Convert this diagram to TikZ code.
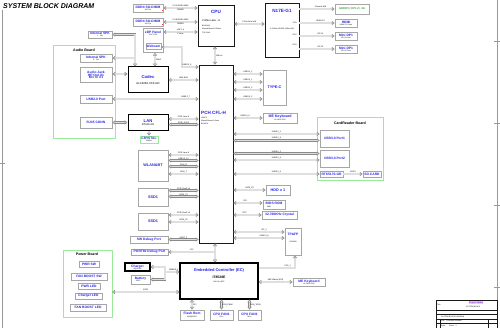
\documentclass[tikz,border=0pt]{standalone}
\usepackage{fontspec}
\setmainfont{Liberation Sans}
\usetikzlibrary{positioning,arrows.meta,calc}
\definecolor{sbBlue}{HTML}{2424E6}
\definecolor{sbGreen}{HTML}{9BEA9B}
\definecolor{sbBus}{HTML}{8A8A8A}
\definecolor{sbVram}{HTML}{3DAA3D}
\definecolor{sbPurple}{HTML}{9B30E0}

\newcommand\bname{\fontsize{3.3}{3.9}\selectfont\bfseries\color{sbBlue}}
\newcommand\bbig{\fontsize{4.6}{5.2}\selectfont\bfseries\color{sbBlue}}
\newcommand\bsmall{\fontsize{1.8}{2.2}\selectfont\mdseries\color{black}}

\tikzset{
  box/.style={draw=gray!70, line width=0.8pt, fill=white, inner sep=0pt, align=center, font=\fontsize{2}{2.6}\selectfont},
  chip/.style={draw=black, line width=1pt, fill=white, inner sep=0pt, align=center, font=\fontsize{2}{2.6}\selectfont},
  board/.style={draw=sbGreen, line width=0.9pt},
  tipo/.tip={Triangle[open, length=2.8pt, width=4.2pt, line width=0.55pt, fill=white]},
  bus/.style={draw=sbBus, double=gray!25, double distance=1.2pt, line width=0.6pt, tipo-tipo},
  busr/.style={draw=sbBus, double=gray!25, double distance=1.2pt, line width=0.6pt, -tipo},
  busl/.style={draw=sbBus, double=gray!25, double distance=1.2pt, line width=0.6pt, tipo-},
  sig/.style={font=\fontsize{2}{2.3}\selectfont, inner sep=0.8pt},
  note/.style={font=\fontsize{1.8}{2.2}\selectfont, inner sep=0pt, anchor=west},
}

\begin{document}
\begin{tikzpicture}[x=1pt, y=-1pt]
  \useasboundingbox (0,0) rectangle (500,328);
  % sheet frame
  \draw[gray!80, line width=0.8pt] (2,10) -- (2,328);
  \draw[gray!80, line width=0.8pt] (497,0) -- (497,328);
  \foreach \ty in {41,123,205,287} {
    \draw[gray!80, line width=0.6pt] (494,\ty) -- (500,\ty);
  }
  \draw[gray!80, line width=0.6pt] (0,163) -- (5,163);
  \node[anchor=west, inner sep=0pt, font=\fontsize{7}{8}\selectfont\bfseries\itshape] (title) at (3,6) {SYSTEM BLOCK DIAGRAM};

  % boards
  \draw[board] (53,45) rectangle (115,138);
  \node[font=\fontsize{3.6}{4}\selectfont\bfseries, inner sep=0pt] (audioT) at (84,50) {Audio Board};
  \draw[board] (317,117) rectangle (383,180);
  \node[font=\fontsize{3.6}{4}\selectfont\bfseries, inner sep=0pt] (cardT) at (350,123) {CardReader Board};
  \draw[board] (63,250) rectangle (112,317);
  \node[font=\fontsize{3.6}{4}\selectfont\bfseries, inner sep=0pt] (powerT) at (87,254.5) {Power Board};

  % memory and display
  \node[box, minimum width=30pt, minimum height=8pt] (ddrA) at (148,8) {\bname DDR4 SO-DIMM\\[-0.6pt]\bsmall 260 Pin};
  \node[box, minimum width=30pt, minimum height=8pt] (ddrB) at (148,22) {\bname DDR4 SO-DIMM\\[-0.6pt]\bsmall 260 Pin};
  \fill[red!80] (161.5,10) rectangle (163,11.5);
  \fill[red!80] (161.5,24) rectangle (163,25.5);
  \node[box, minimum width=24pt, minimum height=7pt] (spkL) at (100,34.5) {\bname Internal SPK\\[-0.6pt]\bsmall L\quad 1W};
  \node[box, minimum width=20pt, minimum height=24pt, anchor=north] (edp) at (153,28) {};
  \node[inner sep=0pt, align=center, font=\fontsize{2}{2.6}\selectfont] (edpT) at (153,33) {\bname eDP Panel\\[-0.4pt]\bsmall 15.6" FHD};
  \node[box, minimum width=15pt, minimum height=6pt] (cam) at (153.5,46.5) {\bname Webcam};

  % CPU and GPU
  \node[chip, draw=gray!20!black, line width=0.8pt, minimum width=36pt, minimum height=41pt] (cpu) at (216,25.5) {};
  \node[inner sep=0pt] (cpuT) at (216,12) {\bbig CPU};
  \node[note, font=\fontsize{2.6}{3}\selectfont] (cpuN) at (202,21) {Coffee Lake - H};
  \node[note] (cpuP) at (202,25.5) {BGA1440};
  \node[note] (cpuS) at (202,29) {42mmX28mmX1.35mm};
  \node[note] (cpuW) at (202,32.5) {TDP 45W};
  \node[chip, draw=gray!20!black, line width=0.8pt, minimum width=34pt, minimum height=54pt] (gpu) at (282,30) {};
  \node[inner sep=0pt] (gpuT) at (282,11) {\bbig N17E-G1};
  \node[note, anchor=center] (gpuN) at (282,28.5) {4* 8Gbits GDDR5 128bit 4GB};
  \node[note, anchor=east] (gpuA) at (297,23) {IFPA};
  \node[note, anchor=east] (gpuB) at (297,35) {IFPC};
  \node[note, anchor=east] (gpuC) at (297,45) {IFPD};
  \node[box, minimum width=34pt, minimum height=10pt] (vram) at (352,9) {\fontsize{2.8}{3.2}\selectfont\bfseries\color{sbVram}GDDR5 \textbar\ DP1.2 \textbar\ 4G};
  \node[box, minimum width=22pt, minimum height=8pt] (hdmi) at (346,23) {\bname HDMI\\[-0.6pt]\bsmall HDMI 2.0 Conn};
  \node[box, minimum width=22pt, minimum height=8pt] (mdpA) at (346,36) {\bname Mini DP1\\[-0.6pt]\bsmall DP1.2 Conn};
  \node[box, minimum width=22pt, minimum height=8pt] (mdpB) at (346,49) {\bname Mini DP1\\[-0.6pt]\bsmall DP1.2 Conn};

  % left side of PCH
  \node[box, minimum width=32pt, minimum height=8pt] (spkR) at (96,58) {\bname Internal SPK\\[-0.6pt]\bsmall R\quad 1W};
  \node[box, minimum width=32pt, minimum height=15pt] (jack) at (96,74.5) {\bname Audio Jack\\[0.6pt]\bname HP Out X1\\[-0.6pt]\bname Mic In X1};
  \node[box, minimum width=32pt, minimum height=8pt] (usbA) at (96,99) {\bname USB2.0 Port};
  \node[box, minimum width=32pt, minimum height=11pt] (rj45) at (96,122.5) {\bname RJ45 CONN};
  \node[chip, minimum width=40pt, minimum height=26pt] (codec) at (148,80) {\fontsize{4.2}{5}\selectfont\bfseries\color{sbBlue}Codec\\[3pt]\fontsize{2.8}{3.2}\selectfont\color{black} ALC3266-VC3-GR};
  \node[chip, minimum width=40pt, minimum height=16pt] (lan) at (148,123) {\fontsize{4.2}{5}\selectfont\bfseries\color{sbBlue}LAN\\[0.5pt]\fontsize{2.6}{3}\selectfont\color{black} RTL8111G};
  \node[box, draw=sbGreen, minimum width=18pt, minimum height=7pt] (xtal) at (149,139.5) {\bname CRYSTAL\\[-0.6pt]\bsmall 25MHz};
  \node[box, minimum width=30pt, minimum height=31pt] (wlan) at (153,165.5) {\fontsize{3.8}{4.4}\selectfont\bfseries\color{sbBlue}WLAN\&BT};
  \node[box, minimum width=30pt, minimum height=18pt] (ssdA) at (153,197) {\fontsize{3.8}{4.4}\selectfont\bfseries\color{sbBlue}SSD1};
  \node[box, minimum width=30pt, minimum height=17pt] (ssdB) at (153,221.5) {\fontsize{3.8}{4.4}\selectfont\bfseries\color{sbBlue}SSD1};
  \node[box, minimum width=38pt, minimum height=7pt] (swdbg) at (149,239.5) {\bname SW Debug Port};
  \node[box, minimum width=37pt, minimum height=6pt] (dbg80) at (149.5,252) {\bname PORT80 Debug Port};

  % PCH
  \node[chip, draw=gray!20!black, line width=0.8pt, minimum width=34pt, minimum height=178pt] (pch) at (216,154) {};
  \node[inner sep=0pt, anchor=west] (pchT) at (201,113) {\bbig PCH CFL-H};
  \node[note] (pchN) at (201,117.5) {HM370};
  \node[note] (pchS) at (201,120.5) {25mmX24mmX1.2mm};
  \node[note] (pchP) at (201,123.5) {BGA874};

  % right side of PCH
  \node[box, minimum width=23pt, minimum height=35pt] (typec) at (274.5,87.5) {\fontsize{3.8}{4.4}\selectfont\bfseries\color{sbBlue}TYPE-C};
  \node[box, minimum width=34pt, minimum height=10pt] (kbdA) at (280,118) {\fontsize{3.6}{4.2}\selectfont\bfseries\color{sbBlue}ME Keyboard\\[0.2pt]\bsmall HL ADD 2020};
  \node[box, minimum width=29pt, minimum height=17pt] (usbP1) at (334.5,138.5) {\bname USB3.0 Port1};
  \node[box, minimum width=29pt, minimum height=17pt] (usbP2) at (334.5,158.5) {\bname USB3.0 Port2};
  \node[box, minimum width=23pt, minimum height=6pt] (rts) at (331.5,174) {\bname RTS5170-GR};
  \node[box, minimum width=18pt, minimum height=6pt] (sdc) at (372,174) {\bname SD CARD};
  \node[box, minimum width=24pt, minimum height=10pt] (hdd) at (278,190) {\fontsize{3.8}{4.4}\selectfont\bfseries\color{sbBlue}HDD x 1};
  \node[box, minimum width=22pt, minimum height=9pt] (bios) at (274,204.5) {\bname BIOS ROM\\[0.2pt]\bsmall 8MB\hspace{10pt}};
  \node[box, minimum width=35pt, minimum height=8pt] (rtc) at (279.5,215) {\bname 32.768KHz Crystal};
  \node[box, minimum width=16pt, minimum height=27pt] (tpfp) at (293,241.5) {};
  \node[inner sep=0pt, align=center, font=\fontsize{2}{2.6}\selectfont] (tpfpT) at (293,238) {\bname TP\&FP\\[5pt]\bsmall I2C/USB};

  % EC side
  \node[chip, line width=1.1pt, minimum width=25pt, minimum height=8pt] (chg) at (137.5,267) {\bname Charger\\[-0.6pt]\bsmall BQ24780};
  \node[box, minimum width=19pt, minimum height=9pt] (batt) at (140.5,279.5) {\bname Battery\\[-0.4pt]\bsmall 3S1P\hspace{5pt}};
  \node[box, minimum width=20pt, minimum height=6pt] (pwrSw) at (89,264) {\bname PWR SW};
  \node[box, minimum width=36pt, minimum height=7pt] (fanSw) at (89,276.5) {\bname FAN BOOST SW};
  \node[box, minimum width=22pt, minimum height=6pt] (pwrLed) at (89,286) {\bname PWR LED};
  \node[box, minimum width=27pt, minimum height=6pt] (chgLed) at (88.5,296) {\bname Charger LED};
  \node[box, minimum width=36pt, minimum height=7pt] (fanLed) at (88,307.5) {\bname FAN BOOST LED};
  \node[chip, line width=1.1pt, minimum width=78pt, minimum height=36pt] (ec) at (219,281) {};
  \node[inner sep=0pt] (ecT) at (219,270) {\fontsize{4}{4.6}\selectfont\bfseries\color{sbBlue}Embedded Controller (EC)};
  \node[inner sep=0pt] (ecN) at (219,277.5) {\fontsize{3.4}{4}\selectfont\bfseries IT8528E};
  \node[inner sep=0pt, font=\fontsize{1.8}{2.2}\selectfont] (ecP) at (219,282.5) {128 Pin LQFP};
  \node[box, minimum width=24pt, minimum height=10pt] (flash) at (192,315) {\bname Flash Rom\\[-0.4pt]\bsmall W25Q80DV};
  \node[box, minimum width=23pt, minimum height=10pt] (fanA) at (221.5,315) {\bname CPU FAN1\\[-0.4pt]\bsmall 5Pin};
  \node[box, minimum width=23pt, minimum height=10pt] (fanB) at (249.5,315) {\bname CPU FAN1\\[-0.4pt]\bsmall 5Pin};
  \node[box, minimum width=32pt, minimum height=8pt] (kbdB) at (309,282) {\bname ME Keyboard\\[-0.6pt]\bsmall HL ADD 2020};

  % title block
  \draw[gray!20!black, line width=0.5pt] (436,300) rectangle (497,328);
  \draw[gray!20!black, line width=0.4pt] (436,310) -- (497,310) (436,314) -- (497,314) (436,319) -- (497,319) (436,323) -- (497,323);
  \draw[gray!20!black, line width=0.4pt] (440,319) -- (440,328) (488,319) -- (488,328);
  \node[note] (tbA) at (437,305) {Title};
  \node[inner sep=0.3pt, fill=sbPurple!25, text=sbPurple, font=\fontsize{2.2}{2.5}\selectfont\bfseries] (tbB) at (476,302.5) {Project Name};
  \node[note] (tbC) at (466,307) {SYSTEM BLOCK};
  \node[note] (tbD) at (441,316.5) {SYSTEM BLOCK DIAGRAM};
  \node[note] (tbE) at (441,321) {Size\quad Document Number};
  \node[note] (tbF) at (441,325.5) {Date:\qquad Sheet\quad 1};

  % buses: CPU
  \draw[bus] (ddrA.east) -- (ddrA.east -| cpu.west) node[sig, midway, above]{CH A DDR4 2666} node[sig, midway, below]{DIMM0};
  \draw[bus] (ddrB.east) -- (ddrB.east -| cpu.west) node[sig, midway, above]{CH B DDR4 2666} node[sig, midway, below]{DIMM1};
  \draw[bus] (edp.east |- 0,32) -- (cpu.west |- 0,32) node[sig, midway, above]{eDP 1.4} node[sig, midway, below]{2 Lane};
  \draw[bus] (cpu.east |- 0,24) -- (gpu.west |- 0,24) node[sig, midway, above]{PCIe Gen3 x16};
  \draw[bus] (cpu.south -| 215,0) -- (pch.north -| 215,0) node[sig, pos=0.5, right]{DMI x4};
  % buses: GPU outputs
  \draw[busr] (gpu.east |- vram) -- (vram.west) node[sig, pos=0.6, above]{Channel A/B};
  \draw[busr] (gpu.east |- hdmi) -- (hdmi.west) node[sig, pos=0.6, above]{HDMI 2.0};
  \draw[busr] (gpu.east |- mdpA) -- (mdpA.west) node[sig, pos=0.6, above]{DP1.2};
  \draw[busr] (gpu.east |- mdpB) -- (mdpB.west) node[sig, pos=0.6, above]{DP1.2};
  % buses: audio and camera
  \draw[bus] (spkL.east) -| (codec.north -| 135,0);
  \draw[busl] (spkR.east) -- (spkR.east -| 135,0);
  \draw[bus] (edp.south -| 155,0) -- (codec.north -| 155,0) node[sig, midway, right]{DMIC};
  \draw[bus] (cam.east |- 0,47) -| (182,67) -- (pch.west |- 0,67) node[sig, pos=0.3, above]{USB2.0\_5};
  \draw[bus] (jack.east |- 0,74) -- (codec.west |- 0,74);
  \draw[bus] (codec.east) -- (codec.east -| pch.west) node[sig, midway, above]{HDA BUS};
  \draw[bus] (usbA.east) -- (usbA.east -| pch.west) node[sig, pos=0.85, above]{USB2.0\_7};
  % buses: LAN and wireless
  \draw[bus] (rj45.east) -- (lan.west |- rj45.east);
  \draw[busr] (lan.south -| 149,0) -- (xtal.north);
  \draw[bus] (lan.east |- 0,119) -- (pch.west |- 0,119) node[sig, midway, above]{PCIE Lane 5};
  \draw[bus] (lan.east |- 0,124.5) -- (pch.west |- 0,124.5) node[sig, midway, above]{PCIE\_CLK5};
  \foreach \wy/\wl in {155/PCIE Lane 6, 160.5/USB2.0\_10, 166.5/CNVi\_R, 174/CNVi\_T} {
    \draw[bus] (wlan.east |- 0,\wy) -- (pch.west |- 0,\wy) node[sig, midway, above]{\wl};
  }
  \draw[bus] (ssdA.east |- 0,190.5) -- (pch.west |- 0,190.5) node[sig, midway, above]{PCIE Gen3 x4};
  \draw[bus] (ssdA.east |- 0,196.5) -- (pch.west |- 0,196.5) node[sig, midway, above]{SATA\_P1};
  \draw[bus] (ssdB.east |- 0,215) -- (pch.west |- 0,215) node[sig, midway, above]{PCIE Gen3 x4};
  \draw[bus] (ssdB.east |- 0,222) -- (pch.west |- 0,222) node[sig, midway, above]{SATA\_P2};
  \draw[bus] (swdbg.east) -- (swdbg.east -| pch.west) node[sig, midway, above]{UART\_2};
  % buses: PCH right side
  \foreach \cy/\cl in {74/USB3.1\_1, 82/USB2.0\_1, 90/USB3.1\_2, 99/USB2.0\_2} {
    \draw[bus] (pch.east |- 0,\cy) -- (typec.west |- 0,\cy) node[sig, midway, above]{\cl};
  }
  \draw[bus] (pch.east |- kbdA) -- (kbdA.west) node[sig, pos=0.4, above]{USB2.0\_6};
  \draw[bus] (pch.east |- 0,134) -- (usbP1.west |- 0,134) node[sig, midway, above]{USB3.0\_1};
  \draw[bus] (pch.east |- 0,140.5) -- (usbP1.west |- 0,140.5) node[sig, midway, above]{USB2.0\_3};
  \draw[bus] (pch.east |- 0,153.5) -- (usbP2.west |- 0,153.5) node[sig, midway, above]{USB3.0\_2};
  \draw[bus] (pch.east |- 0,160) -- (usbP2.west |- 0,160) node[sig, midway, above]{USB2.0\_4};
  \draw[bus] (pch.east |- rts) -- (rts.west) node[sig, midway, above]{USB2.0\_9};
  \draw[busr] (rts.east) -- (sdc.west) node[sig, midway, above]{SD3.0};
  \draw[bus] (pch.east |- hdd) -- (hdd.west) node[sig, midway, above]{SATA\_P0};
  \draw[bus] (pch.east |- 0,203) -- (bios.west |- 0,203) node[sig, pos=0.4, above]{SPI};
  \draw[bus] (pch.east |- rtc) -- (rtc.west) node[sig, pos=0.4, above]{RTC};
  \draw[bus] (pch.east |- 0,232) -- (tpfp.west |- 0,232) node[sig, pos=0.6, above]{I2C\_1};
  \draw[bus] (pch.east |- 0,238) -- (tpfp.west |- 0,238) node[sig, pos=0.6, above]{USB2.0\_8};
  % buses: LPC and EC
  \draw[bus] (pch.south -| 215,0) -- (ec.north -| 215,0);
  \draw[busl] (dbg80.east) -- (215,252) node[sig, midway, above]{LPC};
  \draw[busr] (ec.east |- 0,268) -| (tpfp.south -| 295,0) node[sig, pos=0.4, above]{PS2\_1};
  \draw[bus] (ec.east |- kbdB) -- (kbdB.west) node[sig, midway, above]{KBC Matrix(16*8)};
  \coordinate (smbJ) at (165,272);
  \draw[bus] (chg.east) -| (smbJ) -- (smbJ -| ec.west) node[sig, pos=0.6, above]{SMBUS\_1};
  \draw[busl] (batt.east) -| (smbJ);
  \draw[bus] (112,292) -- (ec.west |- 0,292) node[sig, midway, above]{GPIO};
  \draw[bus] (ec.south -| flash) -- (flash.north) node[sig, midway, right]{SPI};
  \draw[bus] (ec.south -| fanA) -- (fanA.north) node[sig, midway, right]{FAN\_PWM};
  \draw[bus] (ec.south -| fanB) -- (fanB.north) node[sig, midway, right]{FAN\_TACH};
\end{tikzpicture}
\end{document}
